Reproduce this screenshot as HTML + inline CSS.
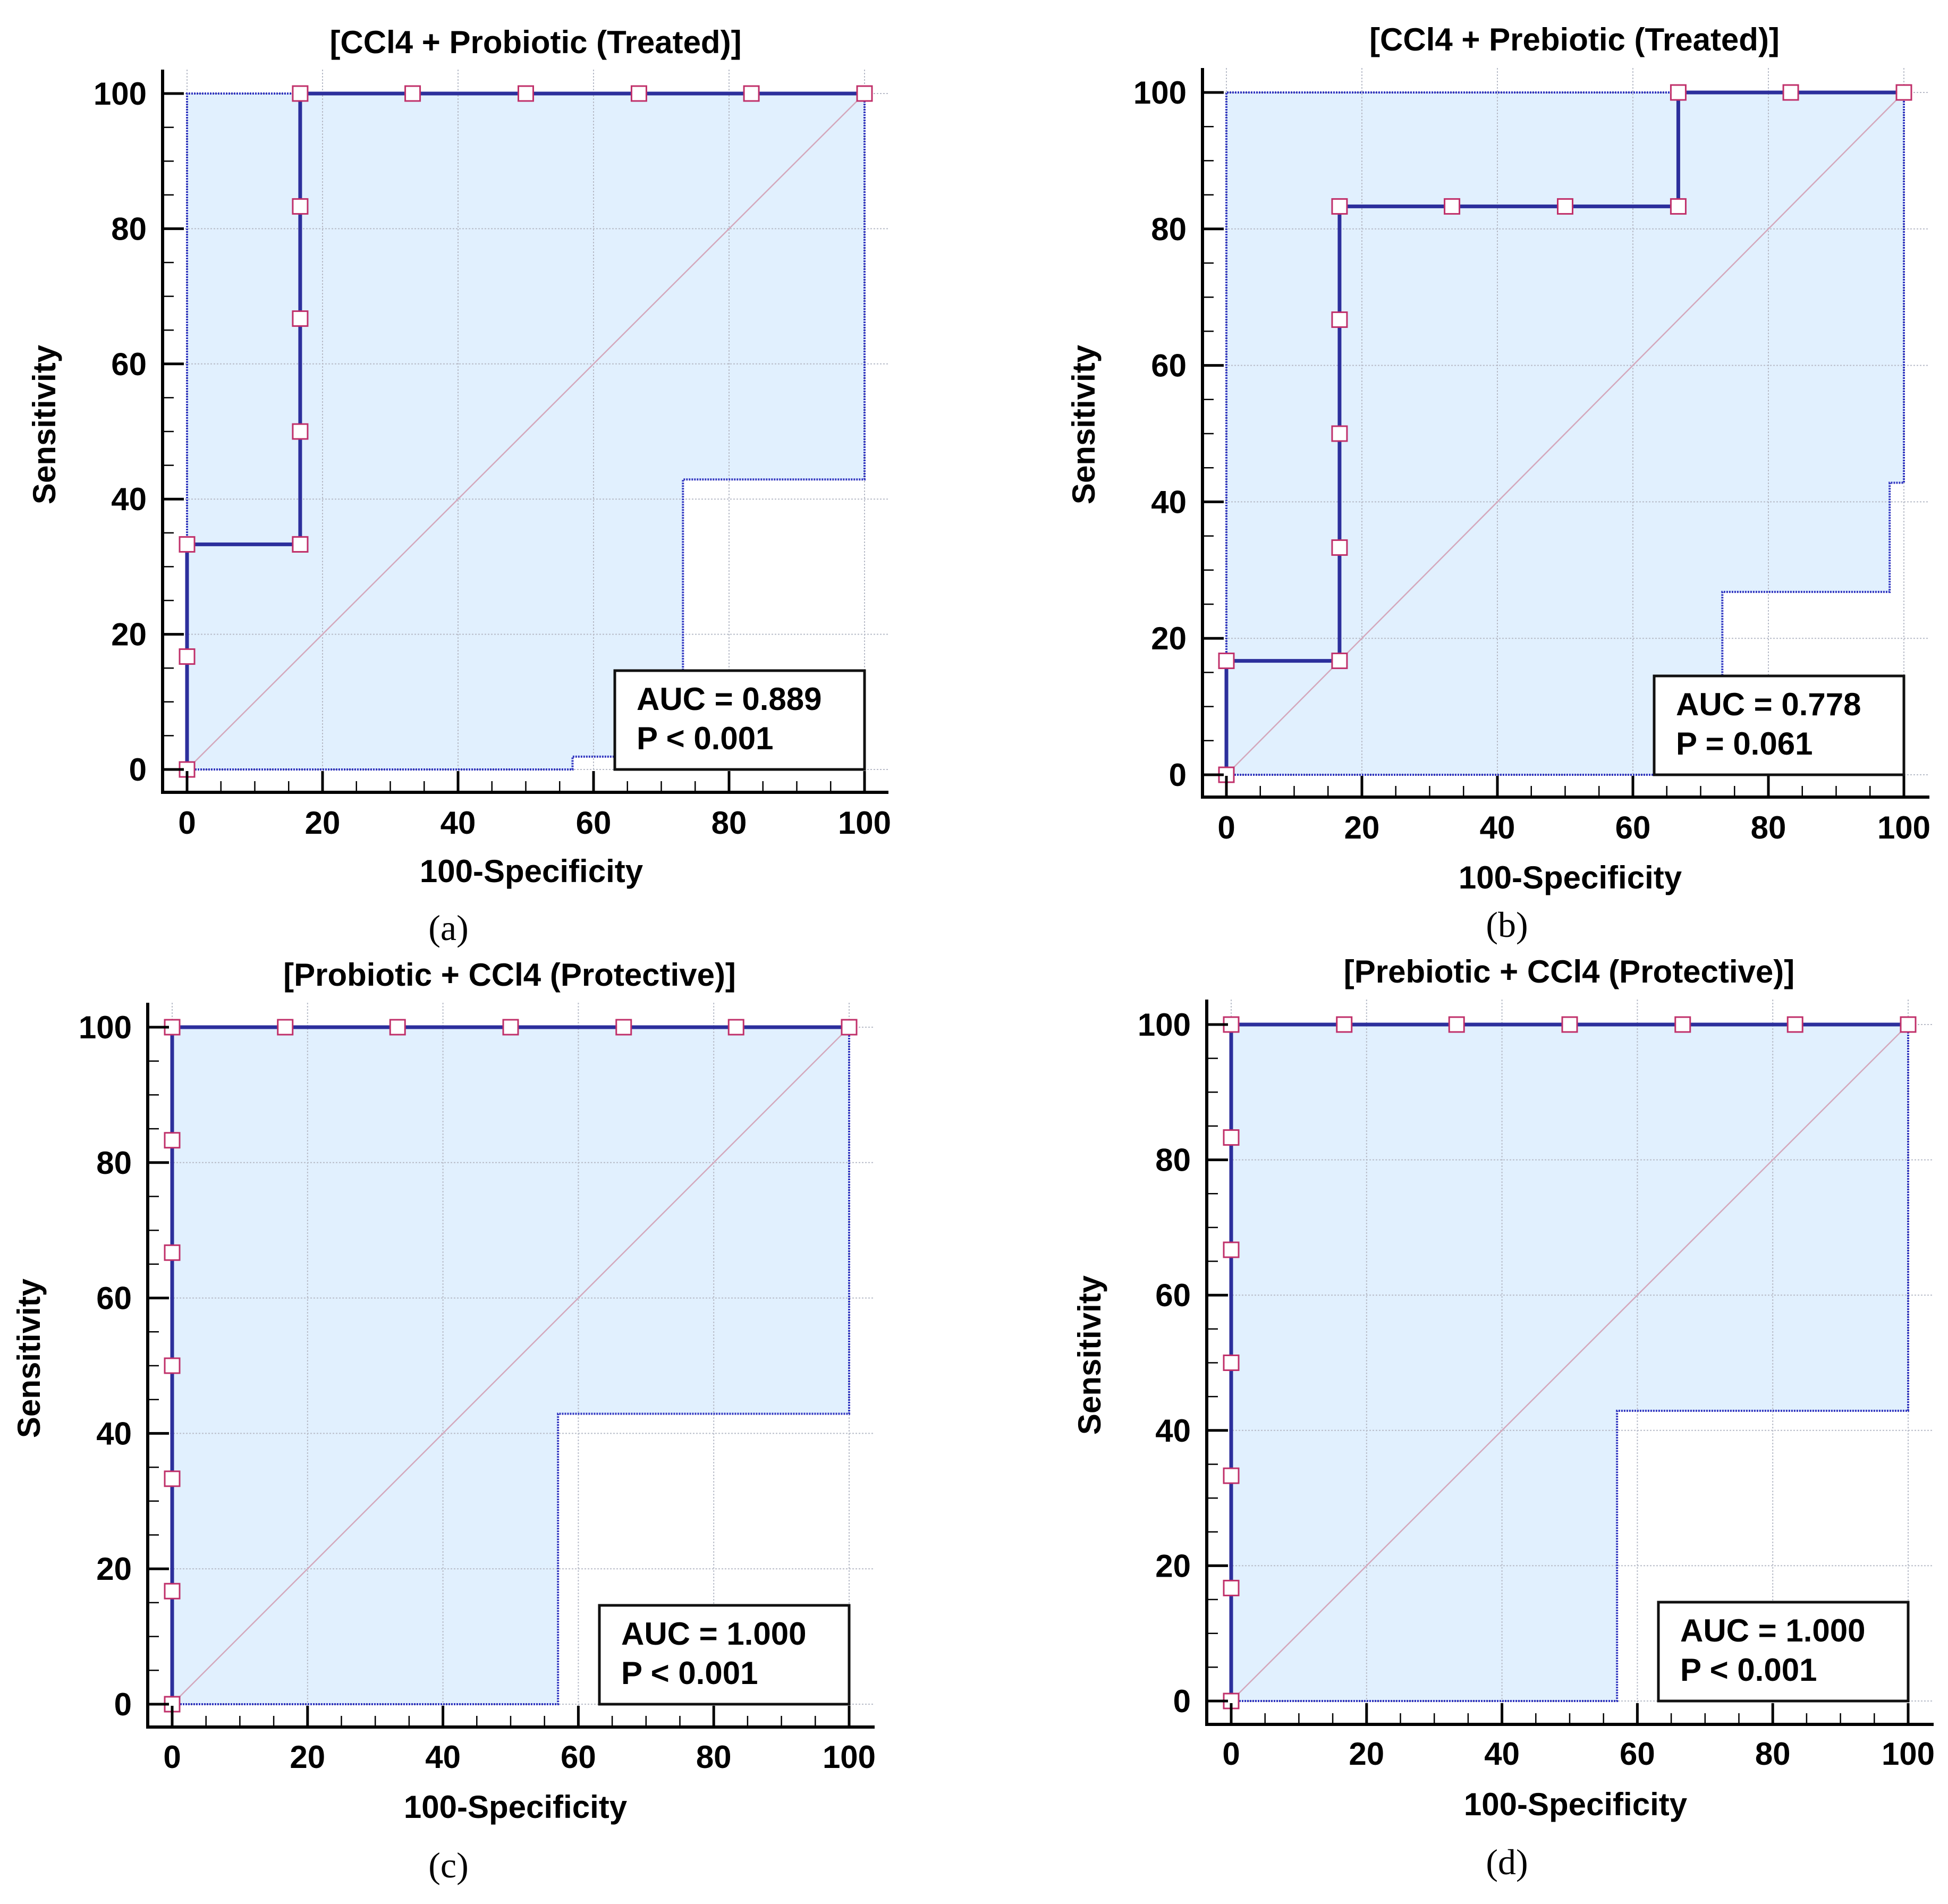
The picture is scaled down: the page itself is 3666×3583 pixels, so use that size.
<!DOCTYPE html>
<html><head><meta charset="utf-8"><style>
html,body{margin:0;padding:0;background:#fff;}
svg{display:block;}
text{font-family:"Liberation Sans",sans-serif;font-weight:bold;fill:#000;}
</style></head><body>
<svg id="fig" width="3666" height="3583" viewBox="0 0 3666 3583" xmlns="http://www.w3.org/2000/svg"></svg>
<script>
// ---- data ----
const panelTitles = ["[CCl4 + Probiotic (Treated)]","[CCl4 + Prebiotic (Treated)]","[Probiotic + CCl4 (Protective)]","[Prebiotic + CCl4 (Protective)]"];
const panelLetters = ["(a)","(b)","(c)","(d)"];
const aucLines1 = ["AUC = 0.889","AUC = 0.778","AUC = 1.000","AUC = 1.000"];
const aucLines2 = ["P < 0.001","P = 0.061","P < 0.001","P < 0.001"];
const tickValues = [0,20,40,60,80,100];
const tickLabels = ["0","20","40","60","80","100"];
const rocXa = [0,0,0,16.7,16.7,16.7,16.7,16.7,16.7,33.3,50,66.7,83.3,100];
const rocYa = [0,16.7,33.3,33.3,33.3,50,66.7,83.3,100,100,100,100,100,100];
const rocXb = [0,0,16.7,16.7,16.7,16.7,16.7,33.3,50,66.7,66.7,83.3,100];
const rocYb = [0,16.7,16.7,33.3,50,66.7,83.3,83.3,83.3,83.3,100,100,100];
const rocXc = [0,0,0,0,0,0,0,16.7,33.3,50,66.7,83.3,100];
const rocYc = [0,16.7,33.3,50,66.7,83.3,100,100,100,100,100,100,100];
const rocXd = [0,0,0,0,0,0,0,16.7,33.3,50,66.7,83.3,100];
const rocYd = [0,16.7,33.3,50,66.7,83.3,100,100,100,100,100,100,100];
const loXa = [0,56.9,56.9,73.2,73.2,100,100];
const loYa = [0,0,1.9,1.9,42.9,42.9,100];
const loXb = [0,73.2,73.2,97.9,97.9,100,100];
const loYb = [0,0,26.8,26.8,42.8,42.8,100];
const loXc = [0,57,57,100,100];
const loYc = [0,0,42.9,42.9,100];
const loXd = [0,57,57,100,100];
const loYd = [0,0,42.9,42.9,100];
const upX = [0,0,100];
const upY = [0,100,100];
// ---- layout (pixels) ----
const layouts = [
 {x0:352,x1:1627,y0:1448,y1:176,axL:306,axB:1491,axT:131,axR:1672,tx:1008,ty:78,tickY:1547,xlX:1000,xlY:1638,lx:844,ly:1747,ylX:82,ylY:799},
 {x0:2308,x1:3583,y0:1458,y1:174,axL:2263,axB:1500,axT:128,axR:3631,tx:2963,ty:73,tickY:1556,xlX:2955,xlY:1650,lx:2836,ly:1741,ylX:2038,ylY:799},
 {x0:324,x1:1598,y0:3207,y1:1933,axL:278,axB:3250,axT:1887,axR:1646,tx:959,ty:1833,tickY:3305,xlX:970,xlY:3399,lx:844,ly:3511,ylX:53,ylY:2556},
 {x0:2317,x1:3591,y0:3201,y1:1928,axL:2271,axB:3245,axT:1881,axR:3639,tx:2953,ty:1827,tickY:3299,xlX:2965,xlY:3394,lx:2836,ly:3505,ylX:2049,ylY:2550}
];
const rocX=[rocXa,rocXb,rocXc,rocXd], rocY=[rocYa,rocYb,rocYc,rocYd];
const loX=[loXa,loXb,loXc,loXd], loY=[loYa,loYb,loYc,loYd];
const NS="http://www.w3.org/2000/svg";
const svg=document.getElementById('fig');
function mk(tag,attrs,parent){const e=document.createElementNS(NS,tag);for(const k in attrs)e.setAttribute(k,attrs[k]);parent.appendChild(e);return e;}
layouts.forEach((L,i)=>{
 const sx=v=>L.x0+(L.x1-L.x0)*v/100;
 const sy=v=>L.y0+(L.y1-L.y0)*v/100;
 const g=mk('g',{},svg);
 
 
 // confidence band fill
 let d='M'+upX.map((x,j)=>sx(x)+','+sy(upY[j])).join(' L');
 for(let j=loX[i].length-1;j>=0;j--) d+=' L'+sx(loX[i][j])+','+sy(loY[i][j]);
 const band=mk('path',{d:d+'Z',fill:'#e1f0fe',stroke:'none'},g);
 
 
 // grid
 tickValues.forEach(t=>{
  const gv=mk('line',{x1:sx(t),x2:sx(t),y1:L.axT,y2:L.axB,stroke:'#b8bcc8','stroke-width':2,'stroke-dasharray':'3,3'},g);
  
  
  const gh=mk('line',{x1:L.axL,x2:L.axR,y1:sy(t),y2:sy(t),stroke:'#b8bcc8','stroke-width':2,'stroke-dasharray':'3,3'},g);
  
  
 });
 // band outlines
 const ub=mk('polyline',{points:upX.map((x,j)=>sx(x)+','+sy(upY[j])).join(' '),fill:'none',stroke:'#3035c0','stroke-width':4,'stroke-dasharray':'3,2'},g);
 
 
 const lb=mk('polyline',{points:loX[i].map((x,j)=>sx(x)+','+sy(loY[i][j])).join(' '),fill:'none',stroke:'#3035c0','stroke-width':4,'stroke-dasharray':'3,2'},g);
 
 
 // diagonal
 const dg=mk('line',{x1:sx(0),y1:sy(0),x2:sx(100),y2:sy(100),stroke:'#d4a8bc','stroke-width':2.5},g);
 
 
 // AUC box
 const bx=mk('rect',{x:L.x1-470,y:L.y0-186,width:470,height:186,fill:'#fff',stroke:'#111','stroke-width':5},g);
 
 
 const a1=mk('text',{x:L.x1-429,y:L.y0-112,'font-size':60},g); a1.textContent=aucLines1[i];
 
 
 const a2=mk('text',{x:L.x1-429,y:L.y0-38,'font-size':60},g); a2.textContent=aucLines2[i];
 
 
 // ROC line
 const rl=mk('polyline',{points:rocX[i].map((x,j)=>sx(x)+','+sy(rocY[i][j])).join(' '),fill:'none',stroke:'#2c2f9c','stroke-width':7},g);
 
 
 rocX[i].forEach((x,j)=>{
  const m=mk('rect',{x:sx(x)-14,y:sy(rocY[i][j])-14,width:28,height:28,fill:'#fff',stroke:'#c0306a','stroke-width':3},g);
  
  
 });
 // axes
 const ya=mk('line',{x1:L.axL,x2:L.axL,y1:L.axT,y2:L.axB+3,stroke:'#000','stroke-width':6},g);
 
 
 const xa=mk('line',{x1:L.axL-3,x2:L.axR,y1:L.axB,y2:L.axB,stroke:'#000','stroke-width':6},g);
 
 
 for(let t=0;t<=100;t+=5){
  const maj=t%20===0;
  mk('line',{x1:L.axL,x2:L.axL+(maj?40:21),y1:sy(t),y2:sy(t),stroke:'#000','stroke-width':maj?5:2.5},g);
  mk('line',{x1:sx(t),x2:sx(t),y1:L.axB,y2:L.axB-(maj?40:21),stroke:'#000','stroke-width':maj?5:2.5},g);
 }
 tickValues.forEach((t,j)=>{
  const xl=mk('text',{x:sx(t),y:L.tickY+22,'font-size':60,'text-anchor':'middle'},g); xl.textContent=tickLabels[j];
  
  
  const yl=mk('text',{x:L.axL-30,y:sy(t)+21,'font-size':60,'text-anchor':'end'},g); yl.textContent=tickLabels[j];
  
  
 });
 const ti=mk('text',{x:L.tx,y:L.ty+22,'font-size':60,'text-anchor':'middle'},g); ti.textContent=panelTitles[i];
 
 
 const xt=mk('text',{x:L.xlX,y:L.xlY+22,'font-size':60,'text-anchor':'middle'},g); xt.textContent='100-Specificity';
 
 
 const yt=mk('text',{x:L.ylX+22,y:L.ylY,'font-size':60,'text-anchor':'middle',transform:'rotate(-90 '+(L.ylX+22)+' '+L.ylY+')'},g); yt.textContent='Sensitivity';
 
 
 const lt=mk('text',{x:L.lx,y:L.ly+22,'font-size':68,'text-anchor':'middle',style:'font-family:"Liberation Serif",serif;font-weight:normal'},g); lt.textContent=panelLetters[i];
 
 
});
</script>
</body></html>
